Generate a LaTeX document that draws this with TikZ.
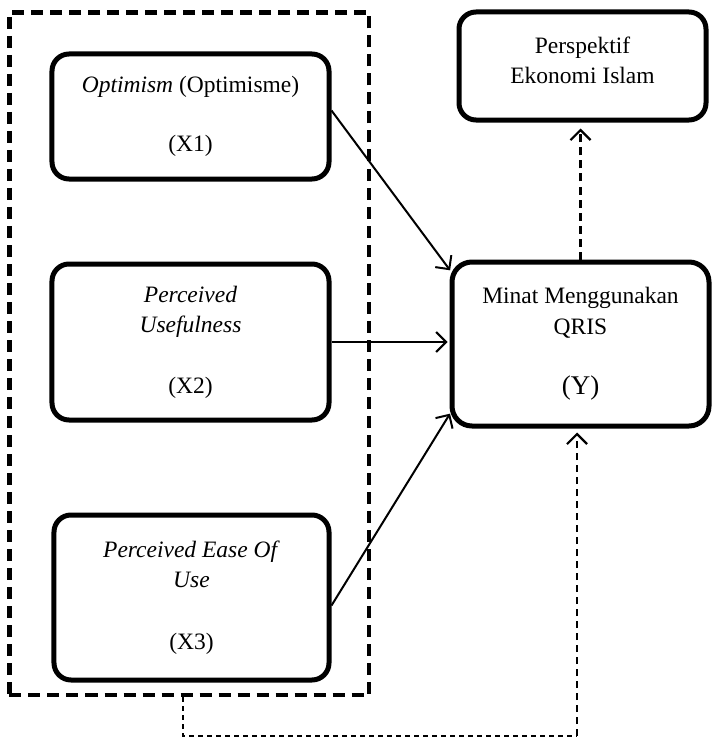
\documentclass[tikz,border=0pt]{standalone}
\usepackage{fontspec}
\setmainfont{Liberation Serif}
\usetikzlibrary{arrows.meta}
\tikzset{
  varbox/.style={draw, line width=5bp, rounded corners=17bp, align=center, inner sep=0pt,
    font=\fontsize{23.5bp}{30.5bp}\selectfont},
  grpbox/.style={draw, line width=4.5bp, dash pattern=on 12bp off 7bp, inner sep=0pt},
  arr/.style={line width=2bp, -{Straight Barb[length=10bp,width=20bp,line width=2bp]}},
  darr/.style={line width=2.2bp, dash pattern=on 8bp off 5bp, -{Straight Barb[length=10bp,width=20bp,line width=2.2bp]}},
  thindash/.style={line width=1.7bp, dash pattern=on 5bp off 4bp}
}
\begin{document}
\begin{tikzpicture}[x=1bp,y=-1bp]
\useasboundingbox (0,0) rectangle (712,738);
\node[grpbox, minimum width=359.5bp, minimum height=682.5bp] (grp) at (189.25,353.75) {};
\node[varbox, minimum width=277bp, minimum height=125bp] (X1) at (190.5,116.5)
  {\textit{Optimism} (Optimisme)\\[28bp](X1)};
\node[varbox, minimum width=277bp, minimum height=156bp] (X2) at (190.5,342)
  {\textit{Perceived}\\\textit{Usefulness}\\[30bp](X2)};
\node[varbox, minimum width=275bp, minimum height=165bp] (X3) at (191.5,597.5)
  {\textit{Perceived Ease Of}\\\textit{Use}\\[31bp](X3)};
\node[varbox, rounded corners=20bp, minimum width=257bp, minimum height=164bp] (Y) at (580.5,344)
  {Minat Menggunakan\\QRIS\\[30bp]{\fontsize{27bp}{30.5bp}\selectfont (Y)}};
\node[varbox, minimum width=247bp, minimum height=108bp, text depth=12bp] (P) at (582.5,66)
  {Perspektif\\Ekonomi Islam};
\draw[arr, shorten >=-1bp] ([yshift=6bp]X1.east) -- ([yshift=-10bp]Y.north west);
\draw[arr, shorten >=2bp] (X2.east) -- (X2.east -| Y.west);
\draw[arr, shorten >=-1bp] ([yshift=-8bp]X3.east) -- ([yshift=14bp]Y.south west);
\draw[darr, shorten >=6bp] (Y.north) -- (Y.north |- P.south);
\coordinate (c1) at (183,736);
\coordinate (c2) at (577,736);
\draw[thindash] (grp.south -| c1) -- (c1) -- (c2);
\draw[darr, line width=2bp, dash pattern=on 7bp off 5bp, shorten >=4bp] (c2) -- (c2 |- Y.south);
\end{tikzpicture}
\end{document}
